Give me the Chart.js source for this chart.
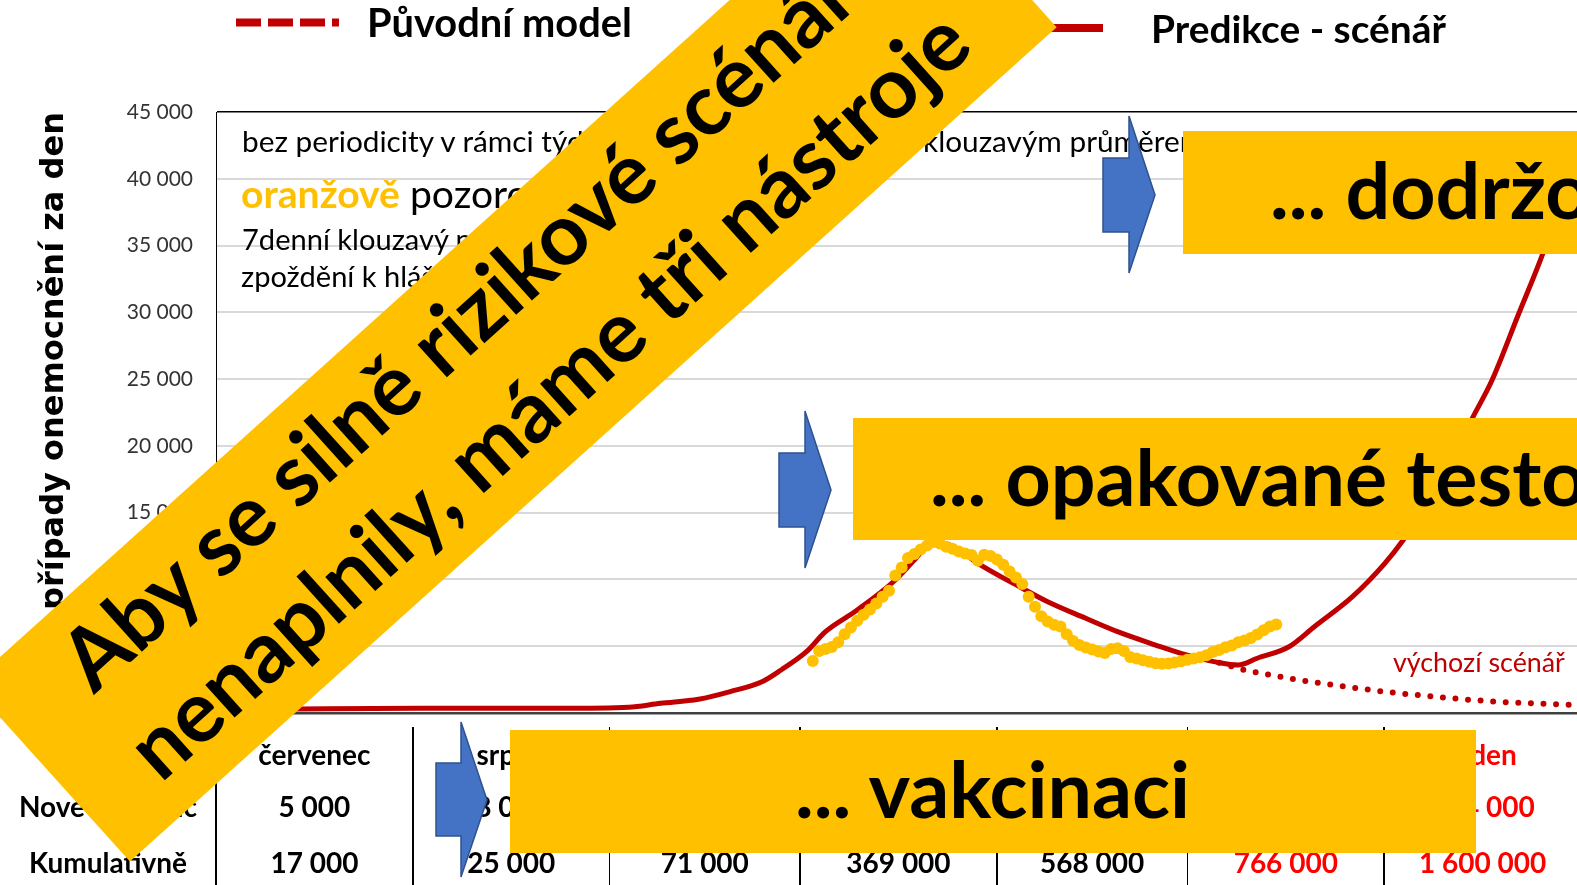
<!DOCTYPE html>
<html lang="cs">
<head>
<meta charset="UTF-8">
<meta name="viewport" content="width=device-width, initial-scale=1.0">
<title>Predikce - scénář</title>
<script src="https://cdn.jsdelivr.net/npm/chart.js"></script>
<style>
    html, body { margin: 0; padding: 0; overflow: hidden; background: #fff; }
    body { width: 1577px; height: 885px; position: relative; font-family: Lato, sans-serif; color: #000; }
    #wrap { position: absolute; left: 0; top: 0; width: 1600px; height: 885px; overflow: hidden; }
    #chart { position: absolute; left: 0; top: 0; }
    .abs { position: absolute; white-space: nowrap; line-height: 1; }
    .b { font-weight: 700; }
    .box { position: absolute; background: #FFC000; }
    .vline { position: absolute; width: 1.5px; background: #000; top: 727px; height: 160px; }
    #arrows { position: absolute; left: 0; top: 0; }
    #banner { position: absolute; left: -30px; top: 684px; width: 1247px; height: 239px; background: #FFC000;
              transform-origin: 0 0; transform: rotate(-42deg); text-align: center; font-weight: 700;
              line-height: 111px; white-space: nowrap; box-sizing: border-box; }
</style>
</head>
<body>
<div id="wrap">
    <canvas id="chart" width="1600" height="885"></canvas>

    <!-- legenda -->
    <div class="abs b" id="leg1">Původní model</div>
    <div class="abs b" id="leg2">Predikce - scénář</div>
    <div style="position:absolute;left:998px;top:23.5px;width:105px;height:8px;background:#C00000"></div>

    <!-- poznamky v grafu -->
    <div class="abs" id="note1">bez periodicity v rámci týdne – vyhlazeno 7denním</div>
    <div class="abs" id="note1b">klouzavým průměrem</div>
    <div class="abs" id="note2"><span class="b" style="color:#FFC000">oranžově</span> pozorovaná data</div>
    <div class="abs" id="note3">7denní klouzavý průměr posunutý o 3 dny</div>
    <div class="abs" id="note4">zpoždění k hlášení</div>
    <div class="abs" id="note5" style="color:#C00000">výchozí scénář</div>

    <div id="table"></div>

    <div class="box" style="left:1183px;top:131px;width:420px;height:123px"></div>
    <div class="box" style="left:853px;top:418px;width:750px;height:122px"></div>
    <div class="box" style="left:510px;top:730px;width:966px;height:123px"></div>
    <div class="abs b" id="tool1">... dodržování opatření</div>
    <div class="abs b" id="tool2">... opakované testování</div>
    <div class="abs b" id="tool3">... vakcinaci</div>

    <svg id="arrows" width="1600" height="885">
        <line x1="236" y1="22.5" x2="339" y2="22.5" stroke="#C00000" stroke-width="8" stroke-dasharray="25 7"/>
        <g fill="#4472C4" stroke="#2F528F" stroke-width="1.5">
            <polygon points="1103,158 1129,158 1129,116 1155,195 1129,273 1129,232 1103,232"/>
            <polygon points="779,453 805,453 805,411 831,490 805,568 805,527 779,527"/>
            <polygon points="436,763 461,763 461,722 487,800 461,877 461,836 436,836"/>
        </g>
    </svg>

    <div id="banner">
        <div id="ban1"><span>Aby se silně rizikové scénáře</span></div>
        <div id="ban2"><span>nenaplnily, máme tři nástroje</span></div>
    </div>
</div>

<script>
    // osa x = dny od 1. července
    const yMax = 45000;
    const yStep = 5000;

    // Predikce - scénář (plná červená)
    const predDays = [0, 13, 32, 54, 65, 70, 76, 81, 86, 89, 93, 96, 101, 107, 110, 113, 116, 120, 127, 131,
                      137, 142, 148, 152, 158, 161, 164, 169, 173, 179, 184, 187, 192, 198, 201, 205, 209, 213, 215];
    const predValues = [250, 300, 350, 350, 430, 730, 1030, 1600, 2340, 3220, 4590, 6090, 7710, 9960, 11460, 12830, 12500, 11210, 9340, 8330,
                        7090, 6090, 5090, 4470, 3770, 3590, 4100, 4960, 6460, 8710, 11150, 12950, 16600, 22180, 24930, 29670, 34420, 39900, 42000];

    // výchozí scénář (tečkovaná)
    const baseDays = [158, 162, 166, 170, 176, 184, 192, 200, 207, 215];
    const baseValues = [3770, 3220, 2850, 2520, 2100, 1600, 1220, 900, 730, 580];

    // pozorovaná data, 7denní průměr, denně od dne 94
    const obsStartDay = 94;
    const obsValues = [3900, 4650, 4800, 4950, 5300, 5900, 6400, 6900, 7350, 7750,
                       8200, 8700, 9150, 10300, 10900, 11600, 11900, 12250, 12550, 12800,
                       12700, 12450, 12300, 12100, 11950, 11830, 11400, 11850, 11750, 11500,
                       11100, 10600, 10150, 9650, 8700, 7950, 7250, 6850, 6600, 6480,
                       5900, 5400, 5100, 4900, 4750, 4600, 4500, 4800, 4850, 4650,
                       4200, 4080, 3950, 3830, 3730, 3680, 3700, 3780, 3880, 3980,
                       4080, 4170, 4330, 4560, 4720, 4920, 5060, 5300, 5420, 5620,
                       5870, 6200, 6480, 6630];

    // tabulka pod grafem
    const months = ['červenec', 'srpen', 'září', 'říjen', 'listopad', 'prosinec', 'leden'];
    const monthStartDays = [0, 31, 62, 92, 123, 153, 184, 215];
    const newPerMonth = [5000, 8000, 46000, 298000, 199000, 198000, 834000];
    const cumulative = [17000, 25000, 71000, 369000, 568000, 766000, 1600000];
    const firstPredicted = 5;
    const rowLabels = ['Nově za měsíc', 'Kumulativně'];

    function fmt(n) {
        return String(n).replace(/\B(?=(\d{3})+(?!\d))/g, ' ');
    }

    const chart = new Chart(document.getElementById('chart'), {
        type: 'line',
        data: {
            datasets: [
                {
                    label: 'pozorovaná data',
                    data: obsValues.map((v, i) => ({ x: obsStartDay + i, y: v })),
                    showLine: false,
                    pointRadius: 6,
                    pointHoverRadius: 6,
                    pointBackgroundColor: '#FFC000',
                    pointBorderWidth: 0,
                    order: 0
                },
                {
                    label: 'Predikce - scénář',
                    data: predDays.map((d, i) => ({ x: d, y: predValues[i] })),
                    borderColor: '#C00000',
                    borderWidth: 5,
                    pointRadius: 0,
                    cubicInterpolationMode: 'monotone',
                    order: 1
                },
                {
                    label: 'výchozí scénář',
                    data: baseDays.map((d, i) => ({ x: d, y: baseValues[i] })),
                    borderColor: '#C00000',
                    borderWidth: 6,
                    borderDash: [0, 12.6],
                    borderCapStyle: 'round',
                    pointRadius: 0,
                    cubicInterpolationMode: 'monotone',
                    order: 2
                }
            ]
        },
        options: {
            responsive: false,
            animation: false,
            devicePixelRatio: 1,
            layout: { padding: { left: 0, top: 112, right: 19, bottom: 172 } },
            plugins: { legend: { display: false }, tooltip: { enabled: false } },
            scales: {
                x: {
                    type: 'linear', min: 0, max: 215,
                    ticks: { display: false },
                    grid: { display: false, drawTicks: false },
                    border: { display: true, color: '#404040', width: 2.5 }
                },
                y: {
                    min: 0, max: yMax,
                    ticks: {
                        stepSize: yStep, padding: 23, color: '#333',
                        font: { family: 'Lato', size: 21 },
                        callback: v => fmt(v)
                    },
                    grid: {
                        drawTicks: false,
                        color: c => c.tick.value === yMax ? '#000' : (c.tick.value === 0 ? 'rgba(0,0,0,0)' : '#D9D9D9'),
                        lineWidth: c => c.tick.value === yMax ? 1.5 : 2
                    },
                    border: { display: true, color: '#000', width: 1 },
                    title: {
                        display: true,
                        text: 'Nové případy onemocnění za den',
                        align: 'end',
                        color: '#000',
                        font: { family: 'DejaVu Sans', weight: 'bold', size: 32 },
                        padding: { top: 35, bottom: 0 }
                    },
                    afterFit: s => { s.width = 216; }
                }
            }
        }
    });

    // mereni textu kvuli velikosti pisma
    const mctx = document.createElement('canvas').getContext('2d');
    function fitSize(text, bold, width) {
        mctx.font = (bold ? '700 ' : '400 ') + '100px Lato';
        return 100 * width / mctx.measureText(text).width;
    }
    function place(el, left, baseline, size) {
        el.style.fontSize = size + 'px';
        el.style.left = left + 'px';
        el.style.top = (baseline - 0.887 * size) + 'px';
    }
    const $ = id => document.getElementById(id);

    place($('leg1'), 367, 37, fitSize('Původní model', true, 265));
    place($('leg2'), 1151, 43, fitSize('Predikce - scénář', true, 295));

    const s1 = fitSize('bez periodicity v rámci', false, 294);
    place($('note1'), 242, 152, s1);
    place($('note1b'), 923, 152, s1);
    const s2 = fitSize('oranžově', true, 159);
    place($('note2'), 241, 208, s2);
    const s3 = fitSize('7denní klouzavý', false, 207);
    place($('note3'), 242, 250, s3);
    place($('note4'), 241, 287, s3);
    place($('note5'), 1393, 673, fitSize('výchozí scénář', false, 172));

    const sTool = fitSize('... vakcinaci', true, 397);
    place($('tool1'), 1270, 220, sTool);
    place($('tool2'), 930, 507, sTool);
    mctx.font = '700 ' + sTool + 'px Lato';
    place($('tool3'), 993.5 - mctx.measureText('... vakcinaci').width / 2, 819, sTool);

    const sBan = fitSize('nenaplnily, máme tři nástroje', true, 1097);
    const ban = $('banner');
    ban.style.fontSize = sBan + 'px';
    ban.style.paddingTop = (92 - (55.5 + 0.387 * sBan)) + 'px';

    // tabulka
    const xs = chart.scales.x;
    const table = $('table');
    const sTab = Math.min(28, (fitSize('1 600 000', true, 117) + fitSize('Kumulativně', true, 179)) / 2);
    function cell(text, left, width, baseline, color) {
        const d = document.createElement('div');
        d.className = 'abs b';
        d.textContent = text;
        d.style.width = width + 'px';
        d.style.textAlign = 'center';
        if (color) d.style.color = color;
        place(d, left, baseline, sTab);
        table.appendChild(d);
    }
    const rowBase = [765, 817, 873];
    const x0 = xs.getPixelForValue(monthStartDays[0]);
    cell(rowLabels[0], 0, x0, rowBase[1]);
    cell(rowLabels[1], 0, x0, rowBase[2]);
    months.forEach((m, i) => {
        const l = xs.getPixelForValue(monthStartDays[i]);
        const r = xs.getPixelForValue(monthStartDays[i + 1]);
        const col = i >= firstPredicted ? '#FF0000' : null;
        cell(m, l, r - l, rowBase[0], col);
        cell(fmt(newPerMonth[i]), l, r - l, rowBase[1], col);
        cell(fmt(cumulative[i]), l, r - l, rowBase[2], col);
        const v = document.createElement('div');
        v.className = 'vline';
        v.style.left = (l - 0.75) + 'px';
        table.appendChild(v);
    });
</script>
</body>
</html>
